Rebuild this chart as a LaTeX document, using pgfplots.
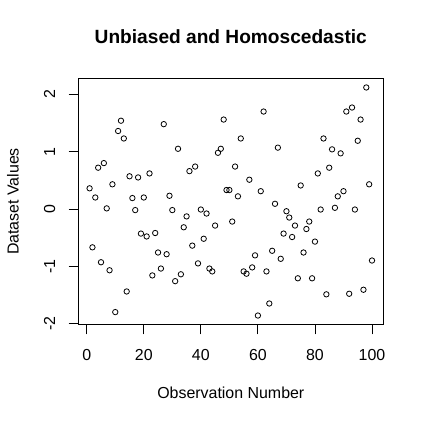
\documentclass[border=0pt]{standalone}
\usepackage{pgfplots}
\pgfplotsset{compat=1.18}
\usepackage{fontspec}
\setmainfont{Liberation Sans}
\begin{document}
\begin{tikzpicture}
\begin{axis}[
  name=main,
  scale only axis,
  width=305bp, height=246.4bp,
  xmin=-2.96, xmax=103.96, ymin=-2.02, ymax=2.28,
  xtick={0,20,40,60,80,100},
  ytick={-2,-1,0,1,2},
  tick pos=left,
  tick align=outside,
  major tick length=9.6bp,
  tick style={line width=0.9bp, black},
  axis line style={line width=0.9bp},
  /pgf/number format/assume math mode=true,
  tick label style={font=\fontsize{16}{19}\selectfont},
  yticklabel style={rotate=90, anchor=south},
  xticklabel shift=12bp,
  yticklabel shift=10bp,
  label style={font=\fontsize{16}{19}\selectfont},
  xlabel={Observation Number},
  ylabel={Dataset Values},
  xlabel style={at={(axis description cs:0.5,-0.2772)}, anchor=center},
  ylabel style={at={(axis description cs:-0.2141,0.5)}, anchor=center},
  title={Unbiased and Homoscedastic},
  title style={font=\bfseries\fontsize{19.2}{23}\selectfont, at={(axis description cs:0.5,1.1445)}, anchor=center},
]
\addplot[only marks, mark=o, mark size=2.7bp, mark options={line width=0.8bp, black}] table {
x y
1 0.36
2 -0.67
3 0.20
4 0.72
5 -0.93
6 0.80
7 0.01
8 -1.07
9 0.43
10 -1.80
11 1.36
12 1.54
13 1.23
14 -1.44
15 0.57
16 0.19
17 -0.02
18 0.55
19 -0.43
20 0.20
21 -0.48
22 0.62
23 -1.16
24 -0.42
25 -0.76
26 -1.04
27 1.48
28 -0.79
29 0.23
30 -0.02
31 -1.26
32 1.05
33 -1.14
34 -0.32
35 -0.13
36 0.66
37 -0.64
38 0.74
39 -0.95
40 -0.01
41 -0.52
42 -0.08
43 -1.04
44 -1.09
45 -0.29
46 0.98
47 1.05
48 1.56
49 0.33
50 0.33
51 -0.22
52 0.74
53 0.22
54 1.23
55 -1.09
56 -1.13
57 0.51
58 -1.02
59 -0.81
60 -1.86
61 0.31
62 1.70
63 -1.09
64 -1.65
65 -0.73
66 0.09
67 1.07
68 -0.87
69 -0.43
70 -0.04
71 -0.15
72 -0.49
73 -0.29
74 -1.21
75 0.41
76 -0.76
77 -0.35
78 -0.22
79 -1.21
80 -0.57
81 0.62
82 -0.01
83 1.23
84 -1.49
85 0.72
86 1.04
87 0.02
88 0.22
89 0.97
90 0.31
91 1.70
92 -1.48
93 1.77
94 -0.01
95 1.19
96 1.56
97 -1.41
98 2.12
99 0.43
100 -0.90
};
\end{axis}
\path ([xshift=-78.3bp,yshift=-98.3bp]main.south west) rectangle ([xshift=40.7bp,yshift=78.3bp]main.north east);
\end{tikzpicture}
\end{document}
